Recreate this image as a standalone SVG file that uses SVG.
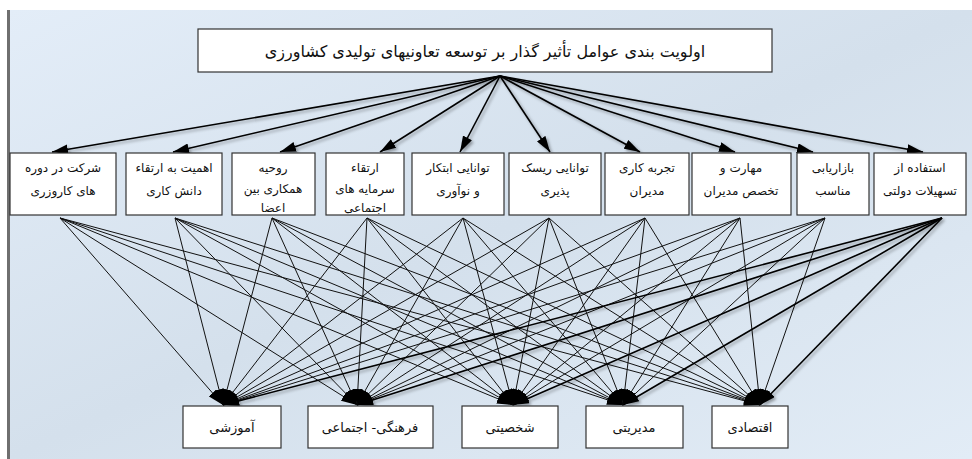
<svg xmlns="http://www.w3.org/2000/svg" width="972" height="459" viewBox="0 0 972 459">
<defs>
<linearGradient id="bg" x1="0" y1="0" x2="1" y2="1">
<stop offset="0" stop-color="#e3edf8"/>
<stop offset="0.5" stop-color="#d4e0ec"/>
<stop offset="1" stop-color="#e2ecf6"/>
</linearGradient>
<filter id="sh" x="-10%" y="-10%" width="120%" height="120%">
<feDropShadow dx="2" dy="2" stdDeviation="1.5" flood-color="#000" flood-opacity="0.35"/>
</filter>
<marker id="aTop" markerUnits="userSpaceOnUse" markerWidth="17" markerHeight="10" refX="16" refY="5" orient="auto">
<path d="M0,0 L16,5 L0,10 z" fill="#000"/>
</marker>
<marker id="aBot" markerUnits="userSpaceOnUse" markerWidth="17" markerHeight="10" refX="16" refY="5" orient="auto">
<path d="M0,0 L16,5 L0,10 z" fill="#000"/>
</marker>
</defs>
<style>
.box{fill:#fff;stroke:#333;stroke-width:1.2}
.t{font-family:"DejaVu Sans","Noto Sans",sans-serif;font-size:12px;fill:#111;text-anchor:middle}
.title{font-family:"DejaVu Sans","Noto Sans",sans-serif;font-size:16px;fill:#111;text-anchor:middle}
.bt{font-family:"DejaVu Sans","Noto Sans",sans-serif;font-size:13px;fill:#111;text-anchor:middle}
.top{stroke:#000;stroke-width:1.6;fill:none;marker-end:url(#aTop)}
.bot{stroke:#111;stroke-width:1;fill:none;marker-end:url(#aBot)}
.bot2{stroke:#000;stroke-width:1.6;fill:none;marker-end:url(#aBot)}
</style>
<rect x="0" y="0" width="972" height="459" fill="#ffffff"/>
<rect x="8" y="10" width="964" height="449" fill="url(#bg)"/>
<line x1="8.5" y1="10" x2="8.5" y2="459" stroke="#6f6f6f" stroke-width="3"/>

<g id="connectors">
<g filter="url(#sh)">
<line class="top" x1="500" y1="76" x2="52" y2="152"/>
<line class="top" x1="500" y1="76" x2="173" y2="152"/>
<line class="top" x1="500" y1="76" x2="280" y2="152"/>
<line class="top" x1="500" y1="76" x2="380" y2="152"/>
<line class="top" x1="500" y1="76" x2="460" y2="152"/>
<line class="top" x1="500" y1="76" x2="550" y2="152"/>
<line class="top" x1="500" y1="76" x2="640" y2="152"/>
<line class="top" x1="500" y1="76" x2="735" y2="152"/>
<line class="top" x1="500" y1="76" x2="813" y2="152"/>
<line class="top" x1="500" y1="76" x2="923" y2="152"/>
</g>
<g>
<line class="bot" x1="60" y1="218" x2="223" y2="405"/>
<line class="bot" x1="60" y1="218" x2="357" y2="405"/>
<line class="bot" x1="60" y1="218" x2="513" y2="405"/>
<line class="bot" x1="60" y1="218" x2="623" y2="405"/>
<line class="bot" x1="60" y1="218" x2="760" y2="405"/>
<line class="bot" x1="175" y1="218" x2="223" y2="405"/>
<line class="bot" x1="175" y1="218" x2="357" y2="405"/>
<line class="bot" x1="175" y1="218" x2="513" y2="405"/>
<line class="bot" x1="175" y1="218" x2="623" y2="405"/>
<line class="bot" x1="175" y1="218" x2="760" y2="405"/>
<line class="bot" x1="272" y1="218" x2="223" y2="405"/>
<line class="bot" x1="272" y1="218" x2="357" y2="405"/>
<line class="bot" x1="272" y1="218" x2="513" y2="405"/>
<line class="bot" x1="272" y1="218" x2="623" y2="405"/>
<line class="bot" x1="272" y1="218" x2="760" y2="405"/>
<line class="bot" x1="367" y1="218" x2="223" y2="405"/>
<line class="bot" x1="367" y1="218" x2="357" y2="405"/>
<line class="bot" x1="367" y1="218" x2="513" y2="405"/>
<line class="bot" x1="367" y1="218" x2="623" y2="405"/>
<line class="bot" x1="367" y1="218" x2="760" y2="405"/>
<line class="bot" x1="463" y1="218" x2="223" y2="405"/>
<line class="bot" x1="463" y1="218" x2="357" y2="405"/>
<line class="bot" x1="463" y1="218" x2="513" y2="405"/>
<line class="bot" x1="463" y1="218" x2="623" y2="405"/>
<line class="bot" x1="463" y1="218" x2="760" y2="405"/>
<line class="bot" x1="549" y1="218" x2="223" y2="405"/>
<line class="bot" x1="549" y1="218" x2="357" y2="405"/>
<line class="bot" x1="549" y1="218" x2="513" y2="405"/>
<line class="bot" x1="549" y1="218" x2="623" y2="405"/>
<line class="bot" x1="549" y1="218" x2="760" y2="405"/>
<line class="bot" x1="645" y1="218" x2="223" y2="405"/>
<line class="bot" x1="645" y1="218" x2="357" y2="405"/>
<line class="bot" x1="645" y1="218" x2="513" y2="405"/>
<line class="bot" x1="645" y1="218" x2="623" y2="405"/>
<line class="bot" x1="645" y1="218" x2="760" y2="405"/>
<line class="bot" x1="740" y1="218" x2="223" y2="405"/>
<line class="bot" x1="740" y1="218" x2="357" y2="405"/>
<line class="bot" x1="740" y1="218" x2="513" y2="405"/>
<line class="bot" x1="740" y1="218" x2="623" y2="405"/>
<line class="bot" x1="740" y1="218" x2="760" y2="405"/>
<line class="bot" x1="825" y1="218" x2="223" y2="405"/>
<line class="bot" x1="825" y1="218" x2="357" y2="405"/>
<line class="bot" x1="825" y1="218" x2="513" y2="405"/>
<line class="bot" x1="825" y1="218" x2="623" y2="405"/>
<line class="bot" x1="825" y1="218" x2="760" y2="405"/>
</g>
<g filter="url(#sh)">
<line class="bot2" x1="942" y1="218" x2="223" y2="405"/>
<line class="bot2" x1="942" y1="218" x2="357" y2="405"/>
<line class="bot2" x1="942" y1="218" x2="513" y2="405"/>
<line class="bot2" x1="942" y1="218" x2="623" y2="405"/>
<line class="bot2" x1="942" y1="218" x2="760" y2="405"/>
</g>
</g>

<g id="title">
<rect class="box" x="198" y="29" width="574" height="43"/>
<text class="title" x="485" y="57">اولویت بندی عوامل تأثیر گذار بر توسعه تعاونیهای تولیدی کشاورزی</text>
</g>

<g id="m1"><rect class="box" x="10" y="153" width="106" height="62"/>
<text class="t" x="63" y="172">شرکت در دوره</text><text class="t" x="63" y="195">های کاروزری</text></g>
<g id="m2"><rect class="box" x="126" y="153" width="96" height="62"/>
<text class="t" x="174" y="172">اهمیت به ارتقاء</text><text class="t" x="174" y="195">دانش کاری</text></g>
<g id="m3"><rect class="box" x="232" y="153" width="83" height="62"/>
<text class="t" x="273" y="172">روحیه</text><text class="t" x="273" y="193">همکاری بین</text><text class="t" x="273" y="212">اعضا</text></g>
<g id="m4"><rect class="box" x="326" y="153" width="78" height="62"/>
<text class="t" x="365" y="172">ارتقاء</text><text class="t" x="365" y="193">سرمایه های</text><text class="t" x="365" y="212">اجتماعی</text></g>
<g id="m5"><rect class="box" x="412" y="153" width="92" height="62"/>
<text class="t" x="458" y="172">توانایی ابتکار</text><text class="t" x="458" y="195">و نوآوری</text></g>
<g id="m6"><rect class="box" x="509" y="153" width="92" height="62"/>
<text class="t" x="555" y="172">توانایی ریسک</text><text class="t" x="555" y="195">پذیری</text></g>
<g id="m7"><rect class="box" x="605" y="153" width="84" height="62"/>
<text class="t" x="647" y="172">تجربه کاری</text><text class="t" x="647" y="195">مدیران</text></g>
<g id="m8"><rect class="box" x="692" y="153" width="99" height="62"/>
<text class="t" x="741" y="172">مهارت و</text><text class="t" x="741" y="195">تخصص مدیران</text></g>
<g id="m9"><rect class="box" x="797" y="153" width="72" height="62"/>
<text class="t" x="833" y="172">بازاریابی</text><text class="t" x="833" y="195">مناسب</text></g>
<g id="m10"><rect class="box" x="874" y="153" width="92" height="62"/>
<text class="t" x="920" y="172">استفاده از</text><text class="t" x="920" y="195">تسهیلات دولتی</text></g>

<g id="b1"><rect class="box" x="183" y="406" width="98" height="42"/><text class="bt" x="232" y="432">آموزشی</text></g>
<g id="b2"><rect class="box" x="308" y="406" width="125" height="42"/><text class="bt" x="370" y="432">فرهنگی- اجتماعی</text></g>
<g id="b3"><rect class="box" x="462" y="406" width="96" height="42"/><text class="bt" x="510" y="432">شخصیتی</text></g>
<g id="b4"><rect class="box" x="586" y="406" width="97" height="42"/><text class="bt" x="634" y="432">مدیریتی</text></g>
<g id="b5"><rect class="box" x="712" y="406" width="76" height="42"/><text class="bt" x="750" y="432">اقتصادی</text></g>
</svg>
